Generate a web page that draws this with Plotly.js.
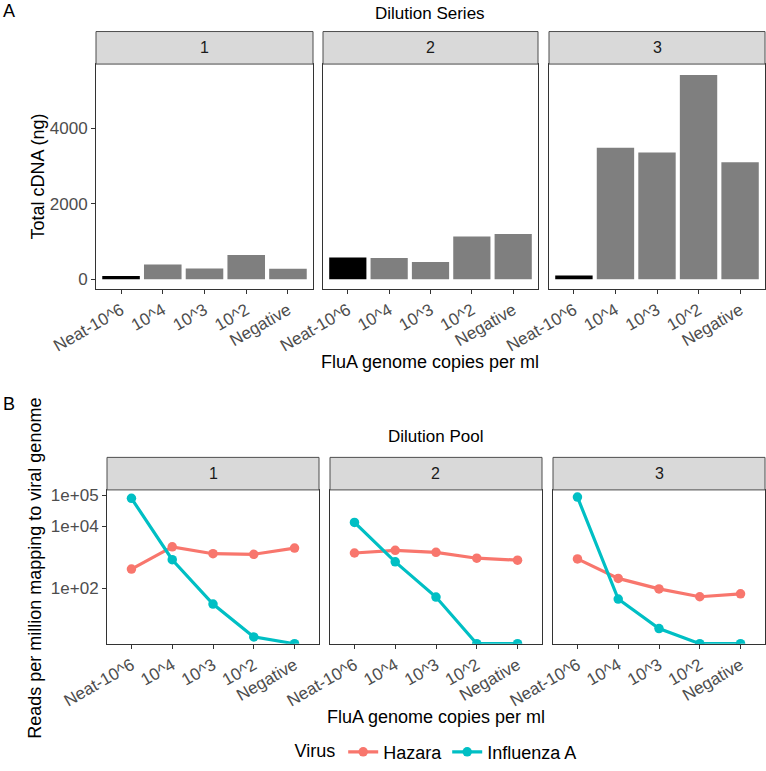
<!DOCTYPE html>
<html>
<head>
<meta charset="utf-8">
<script src="https://cdn.plot.ly/plotly-3.0.1.min.js"></script>
<style>html,body{margin:0;padding:0;background:#fff;}#chart{width:766px;height:771px;}</style>
</head>
<body>
<div id="chart"></div>
<script>
// ---- data ----
const categories = ['Neat-10^6', '10^4', '10^3', '10^2', 'Negative'];
const panelNames = ['1', '2', '3'];
// Total cDNA (ng), Dilution Series 1..3
const cdnaSeries1 = [85, 391, 287, 642, 277];
const cdnaSeries2 = [574, 565, 460, 1130, 1200];
const cdnaSeries3 = [100, 3478, 3355, 5408, 3094];
// Reads per million mapping to viral genome, Dilution Pool 1..3
const hazaraPool1 = [413, 2150, 1290, 1236, 1960];
const hazaraPool2 = [1360, 1655, 1430, 923, 798];
const hazaraPool3 = [877, 207, 95, 53, 66];
const fluPool1 = [78500, 826, 30.8, 2.7, 1.63];
const fluPool2 = [13090, 705, 51.8, 1.63, 1.63];
const fluPool3 = [85700, 44.8, 5.0, 1.63, 1.63];
const yTopTicks = [0, 2000, 4000];
const yLogTicks = [100, 10000, 100000];
const yLogTickText = ['1e+02', '1e+04', '1e+05'];

// ---- layout helpers ----
const W = 766, H = 771;
const px = v => v / W;
const py = v => 1 - v / H;
const FONT = 'Liberation Sans, Arial, sans-serif';
const hazaraColor = '#F8766D', fluColor = '#00BFC4';

const topX = [[96, 313], [323, 538], [549, 765]];
const topY = [65, 293];
const botX = [[107, 319], [330, 542], [553, 765]];
const botY = [497, 653];
const stripH = 33;

const traces = [];
const cdna = [cdnaSeries1, cdnaSeries2, cdnaSeries3];
cdna.forEach((vals, i) => {
  const s = i === 0 ? '' : String(i + 1);
  traces.push({
    type: 'bar', x: categories, y: vals, xaxis: 'x' + s, yaxis: 'y' + s,
    width: 0.9, showlegend: false, hoverinfo: 'skip',
    marker: {color: categories.map(c => c === 'Neat-10^6' ? '#000000' : '#7F7F7F'), line: {width: 0}}
  });
});
const hazara = [hazaraPool1, hazaraPool2, hazaraPool3];
const flu = [fluPool1, fluPool2, fluPool3];
[0, 1, 2].forEach(i => {
  const s = String(i + 4);
  traces.push({
    type: 'scatter', mode: 'lines+markers', name: 'Hazara', legendgroup: 'h',
    x: categories, y: hazara[i], xaxis: 'x' + s, yaxis: 'y' + s, showlegend: i === 0,
    line: {color: hazaraColor, width: 3.2}, marker: {color: hazaraColor, size: 9.5}
  });
});
[0, 1, 2].forEach(i => {
  const s = String(i + 4);
  traces.push({
    type: 'scatter', mode: 'lines+markers', name: 'Influenza A', legendgroup: 'f',
    x: categories, y: flu[i], xaxis: 'x' + s, yaxis: 'y' + s, showlegend: i === 0,
    line: {color: fluColor, width: 3.2}, marker: {color: fluColor, size: 9.5}
  });
});

const tickFont = {family: FONT, size: 17, color: '#4D4D4D'};
function xAx(dom, anchor) {
  return {domain: [px(dom[0]), px(dom[1])], anchor: anchor, type: 'category',
    categoryorder: 'array', categoryarray: categories, range: [-0.6, 4.6],
    showgrid: false, zeroline: false, showline: true, mirror: true, linecolor: '#333333', linewidth: 1,
    ticks: 'outside', ticklen: 4, tickcolor: '#333333', tickangle: -30, tickfont: tickFont, fixedrange: true};
}
function yAx(dom, anchor, showLabels, extra) {
  return Object.assign({domain: [py(dom[1]), py(dom[0])], anchor: anchor,
    showgrid: false, zeroline: false, showline: true, mirror: true, linecolor: '#333333', linewidth: 1,
    ticks: showLabels ? 'outside' : '', ticklen: 4, tickcolor: '#333333', showticklabels: showLabels, tickfont: tickFont, fixedrange: true}, extra);
}

const layout = {
  width: W, height: H, margin: {l: 0, r: 0, t: 0, b: 0},
  paper_bgcolor: '#ffffff', plot_bgcolor: '#ffffff',
  font: {family: FONT, color: '#000000'},
  showlegend: true,
  legend: {orientation: 'h', x: px(437), xanchor: 'center', y: py(763), yanchor: 'middle',
    font: {family: FONT, size: 18, color: '#000000'}, title: {text: 'Virus', font: {family: FONT, size: 18}},
    bgcolor: 'rgba(0,0,0,0)'},
  shapes: [], annotations: []
};
for (let i = 0; i < 3; i++) {
  const s = i === 0 ? '' : String(i + 1);
  const sb = String(i + 4);
  layout['xaxis' + s] = xAx(topX[i], 'y' + s);
  layout['yaxis' + s] = yAx(topY, 'x' + s, i === 0, {range: [-253, 5696], tickmode: 'array', tickvals: yTopTicks, ticktext: yTopTicks.map(String)});
  layout['xaxis' + sb] = xAx(botX[i], 'y' + sb);
  layout['yaxis' + sb] = yAx(botY, 'x' + sb, i === 0, {type: 'log', range: [0.213, 5.165], tickmode: 'array', tickvals: yLogTicks, ticktext: yLogTickText});
  // strips
  [[topX[i], topY[0]], [botX[i], botY[0]]].forEach(([xr, yb]) => {
    layout.shapes.push({type: 'rect', xref: 'paper', yref: 'paper', x0: px(xr[0]), x1: px(xr[1]),
      y0: py(yb), y1: py(yb - stripH), fillcolor: '#D9D9D9', line: {color: '#4D4D4D', width: 1}});
    layout.annotations.push({xref: 'paper', yref: 'paper', x: px((xr[0] + xr[1]) / 2), y: py(yb - stripH / 2),
      text: panelNames[i], showarrow: false, xanchor: 'center', yanchor: 'middle', font: {family: FONT, size: 16, color: '#1A1A1A'}});
  });
}
function ann(text, x, y, size, opts) {
  layout.annotations.push(Object.assign({xref: 'paper', yref: 'paper', x: px(x), y: py(y), text: text, showarrow: false,
    xanchor: 'center', yanchor: 'middle', font: {family: FONT, size: size, color: '#000000'}}, opts || {}));
}
ann('A', 1, 11, 18, {xanchor: 'left'});
ann('Dilution Series', 430, 14, 17);
ann('Total cDNA (ng)', 38, 179, 18, {textangle: -90});
ann('FluA genome copies per ml', 430, 367, 18);
ann('B', 1, 410, 18, {xanchor: 'left'});
ann('Dilution Pool', 436, 443, 17);
ann('Reads per million mapping to viral genome', 35, 577, 18, {textangle: -90});
ann('FluA genome copies per ml', 436, 727, 18);

Plotly.newPlot('chart', traces, layout, {staticPlot: true, displayModeBar: false});
</script>
</body>
</html>
